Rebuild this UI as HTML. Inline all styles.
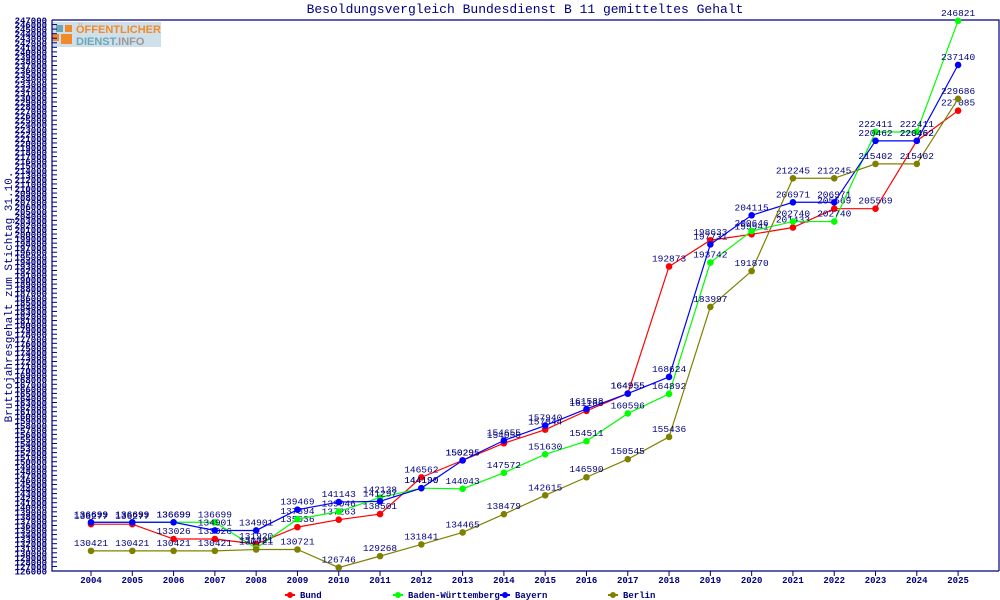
<!DOCTYPE html>
<html><head><meta charset="utf-8"><style>
body{margin:0;background:#fff;}
svg{display:block;font-family:"Liberation Mono",monospace;}
</style></head><body>
<svg id="s" width="1000" height="600" xmlns="http://www.w3.org/2000/svg"></svg>
<script>
const s=document.getElementById('s');
const X0=52,X1=999,YT=20,YB=571;
const yv=v=>YB-(v-126000)*(YB-YT)/121000;
const xi=i=>91+i*41.29;
let h='';
h+=`<rect x="52" y="22" width="109" height="25" fill="#cfe0ea"/>`;
h+=`<rect x="56" y="25" width="7" height="7" fill="#6aa8b8"/><rect x="65" y="25" width="7" height="7" fill="#f08a2a"/><rect x="52" y="34" width="7" height="7" fill="#f08a2a"/><rect x="61" y="34" width="11" height="10" fill="#f08a2a"/>`;
h+=`<text x="76" y="33" font-family="Liberation Sans,sans-serif" font-weight="bold" font-size="11" fill="#f08a2a">ÖFFENTLICHER</text>`;
h+=`<text x="76" y="45" font-family="Liberation Sans,sans-serif" font-weight="bold" font-size="11" fill="#6aa8b8">DIENST<tspan fill="#999">.INFO</tspan></text>`;
h+=`<text x="525" y="13" text-anchor="middle" font-size="13" fill="#000080">Besoldungsvergleich Bundesdienst B 11 gemitteltes Gehalt</text>`;
h+=`<text transform="translate(12,297) rotate(-90)" text-anchor="middle" font-size="11" fill="#000080">Bruttojahresgehalt zum Stichtag 31.10.</text>`;
h+=`<path d="M${X0} ${YT}H${X1}V${YB}M${X0} ${YT}V${YB}H${X1}" stroke="#000080" fill="none" stroke-width="1.2"/>`;
for(let v=126000;v<=247000;v+=1000){const y=yv(v);h+=`<line x1="52" x2="57" y1="${y}" y2="${y}" stroke="#000080"/><text x="47" y="${y+3.5}" text-anchor="end" font-size="9" font-weight="bold" fill="#000080">${v}</text>`;}
for(let i=0;i<22;i++){const x=xi(i);h+=`<line x1="${x}" x2="${x}" y1="571" y2="576" stroke="#000080"/><text x="${x}" y="583" text-anchor="middle" font-size="9" font-weight="bold" fill="#000080">${2004+i}</text>`;}
const S=[
["#ff0000",[136277,136277,133026,133026,131920,135636,137263,138501,146562,150295,154055,157044,161166,164955,192873,198633,199941,201433,205569,205569,220462,227085],"Bund",290],
["#00ff00",[136699,136699,136699,136699,131021,137394,139046,142138,144190,144043,147572,151630,154511,160596,164892,193742,200646,202740,202740,222411,222411,246821],"Baden-Württemberg",398],
["#0000ff",[136699,136699,136699,134901,134901,139469,141143,141297,144190,150295,154655,157940,161588,164955,168624,197731,204115,206971,206971,220462,220462,237140],"Bayern",505],
["#808000",[130421,130421,130421,130421,130721,130721,126746,129268,131841,134465,138479,142615,146590,150545,155436,183997,191870,212245,212245,215402,215402,229686],"Berlin",613]];
for(const [c,d,n,lx] of S){
 h+=`<polyline fill="none" stroke="${c}" stroke-width="1.2" points="${d.map((v,i)=>xi(i)+','+yv(v)).join(' ')}"/>`;
 d.forEach((v,i)=>{const x=xi(i),y=yv(v);h+=`<circle cx="${x}" cy="${y}" r="3.3" fill="${c}"/><text x="${x}" y="${y-5}" text-anchor="middle" font-size="9.5" fill="#000080">${v}</text>`;});
 h+=`<line x1="${lx-5}" x2="${lx+5}" y1="595" y2="595" stroke="${c}" stroke-width="2"/><circle cx="${lx}" cy="595" r="3" fill="${c}"/><text x="${lx+10}" y="598" font-size="9" font-weight="bold" fill="#000080">${n}</text>`;
}
s.innerHTML=h;
</script>
</body></html>
